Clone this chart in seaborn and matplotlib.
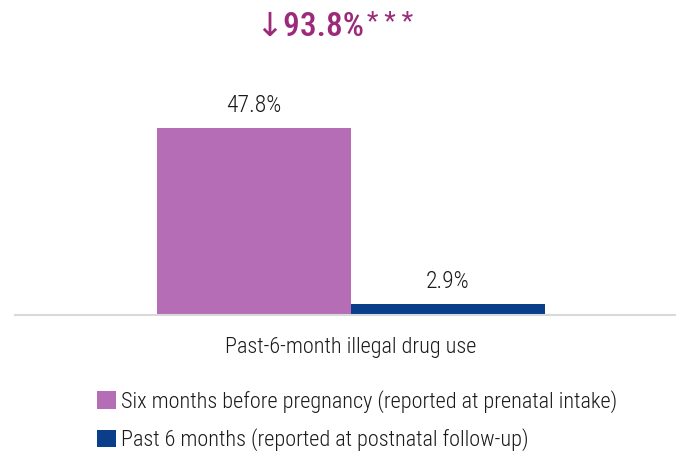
import pandas as pd
import seaborn as sns
import matplotlib.pyplot as plt
from matplotlib import font_manager

sns.set_style("white")

# %% Data

category = ['Past-6-month illegal drug use']
periods = ['Six months before pregnancy (reported at prenatal intake)',
           'Past 6 months (reported at postnatal follow-up)']
values = [47.8, 2.9]
colors = ['#b56db6', '#0a3d8a']
change_label = '\u219393.8%'
signif = '* * *'

data = pd.DataFrame({'Measure': category * 2, 'Period': periods, 'Percent': values})

# pick a narrow font if one is installed
names = {f.name for f in font_manager.fontManager.ttflist}
font = 'Roboto'
for cand in ['Roboto Condensed', 'Liberation Sans Narrow', 'Open Sans Condensed']:
    if cand in names:
        font = cand
        break
plt.rcParams['font.family'] = [font, 'DejaVu Sans']
text_color = '#1a1a1a'

# %% Plot

fig = plt.figure(figsize=(6.76, 4.57), dpi=100)
ax = fig.add_axes([15 / 676, (457 - 315) / 457, 672 / 676, (315 - 60) / 457])

sns.barplot(data=data, x='Measure', y='Percent', hue='Period',
            palette=colors, width=0.576, saturation=1, linewidth=0, ax=ax, legend=True)

for cont in ax.containers:
    ax.bar_label(cont, fmt='%.1f%%', padding=8, fontsize=17, color=text_color,
                 fontweight='light')

ax.set_xlim(-0.5, 0.5)
ax.set_ylim(0, (315 - 60) / (187 / 47.8))
ax.set_yticks([])
ax.set_xlabel('')
ax.set_ylabel('')
ax.tick_params(axis='x', length=0, pad=16, labelsize=16, labelcolor=text_color)
for lab in ax.get_xticklabels():
    lab.set_fontweight('light')
sns.despine(ax=ax, left=True)
ax.spines['bottom'].set_color('#d9d9d9')
ax.spines['bottom'].set_linewidth(1.5)

handles, labels = ax.get_legend_handles_labels()
ax.get_legend().remove()
leg = fig.legend(handles, labels, loc='upper left', bbox_to_anchor=(77 / 676, 1 - 370 / 457),
                 frameon=False, fontsize=16, handlelength=0.85, handleheight=0.85,
                 handletextpad=0.25, labelspacing=0.7, labelcolor=text_color)
for t in leg.get_texts():
    t.set_fontweight('light')

main = fig.text(255 / 676, 1 - 27 / 457, change_label, ha='left', va='center',
                fontsize=24, color='#9b2a7a', fontweight='medium')
ax.annotate(signif, xy=(1, 0.62), xycoords=main, xytext=(2, 0), textcoords='offset points',
            ha='left', va='center', fontsize=19, color='#9b2a7a')

fig.savefig('out.png', dpi=100)
